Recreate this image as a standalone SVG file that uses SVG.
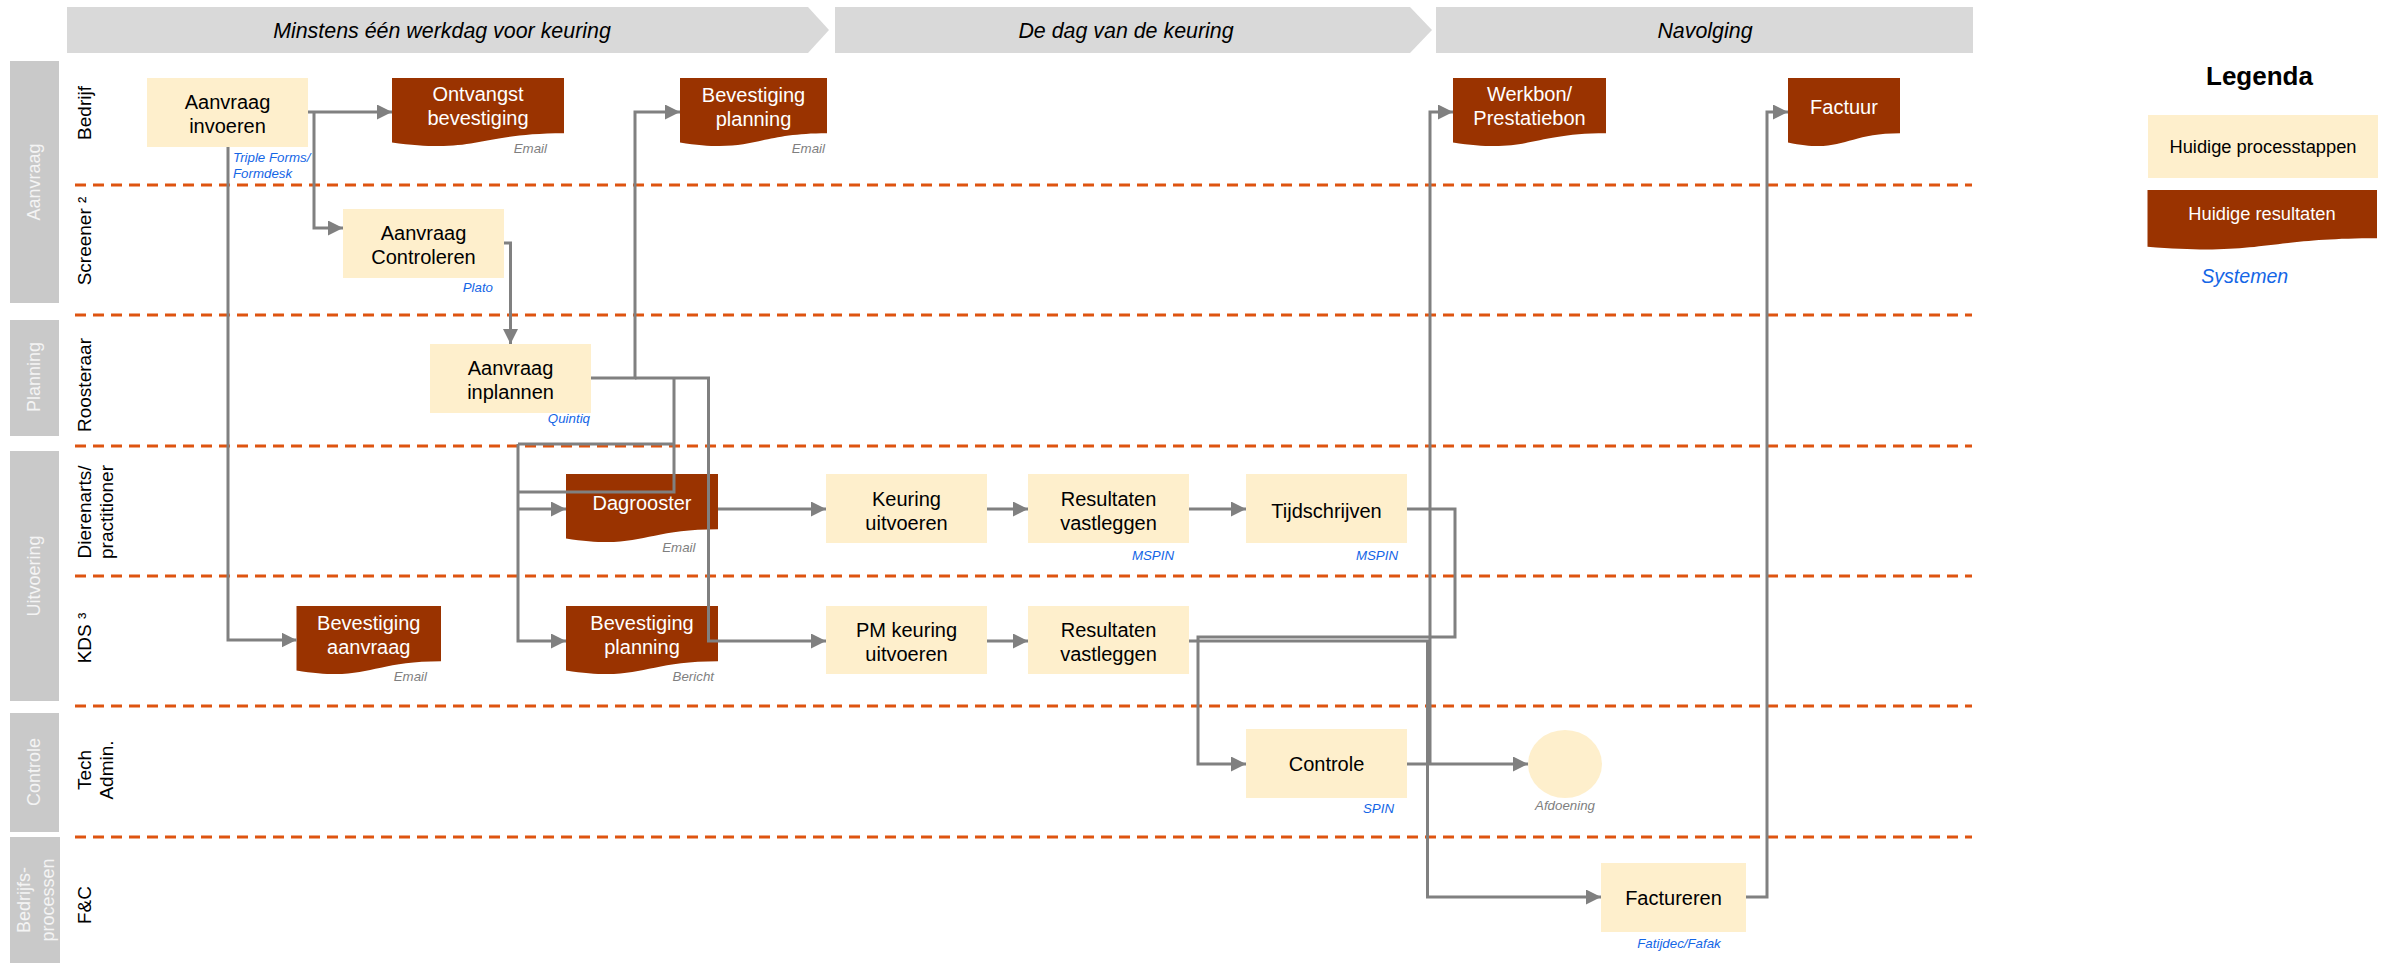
<svg xmlns="http://www.w3.org/2000/svg" width="2392" height="965" viewBox="0 0 2392 965">
<style>
text{font-family:"Liberation Sans",Arial,sans-serif}
.hdr{fill:#D9D9D9}
.htxt{font-size:21.4px;font-style:italic;fill:#000;text-anchor:middle}
.bar{fill:#C9C9C9}
.btxt{font-size:18px;fill:#F4F4F4;text-anchor:middle}
.ltxt{font-size:19px;fill:#000;text-anchor:middle}
.lane{stroke:#DE5410;stroke-width:3;stroke-dasharray:11 7;fill:none}
.proc{fill:#FEEFCC}
.doc{fill:#9A3300}
.ptxt{font-size:20px;fill:#000;text-anchor:middle}
.dtxt{font-size:20px;fill:#fff;text-anchor:middle}
.sys{font-size:13.3px;font-style:italic;fill:#1466E6}
.gry{font-size:13.3px;font-style:italic;fill:#7F7F7F}
.con{stroke:#808080;stroke-width:3;fill:none}
.arr{stroke:#808080;stroke-width:3;fill:none;marker-end:url(#ah)}
</style>
<defs>
<marker id="ah" markerUnits="userSpaceOnUse" markerWidth="16" markerHeight="16" refX="15" refY="7.5" orient="auto"><path d="M0,0 L15,7.5 L0,15 Z" fill="#808080"/></marker>
</defs>
<rect width="2392" height="965" fill="#fff"/>

<g id="headers">
<path class="hdr" d="M67,7 H808 L829,30 L808,53 H67 Z"/>
<text class="htxt" x="442" y="38">Minstens één werkdag voor keuring</text>
<path class="hdr" d="M835,7 H1410 L1432,30 L1410,53 H835 Z"/>
<text class="htxt" x="1126" y="38">De dag van de keuring</text>
<rect class="hdr" x="1436" y="7" width="537" height="46"/>
<text class="htxt" x="1705" y="38">Navolging</text>
</g>

<g id="lanegroups">
<rect class="bar" x="10" y="61" width="49" height="242"/>
<text class="btxt" transform="translate(34,182) rotate(-90)" dy="6">Aanvraag</text>
<rect class="bar" x="10" y="320" width="49" height="116"/>
<text class="btxt" transform="translate(34,377) rotate(-90)" dy="6">Planning</text>
<rect class="bar" x="10" y="451" width="49" height="250"/>
<text class="btxt" transform="translate(34,576) rotate(-90)" dy="6">Uitvoering</text>
<rect class="bar" x="10" y="713" width="49" height="119"/>
<text class="btxt" transform="translate(34,772) rotate(-90)" dy="6">Controle</text>
<rect class="bar" x="10" y="837" width="50" height="126"/>
<text class="btxt" transform="translate(24,900) rotate(-90)" dy="6">Bedrijfs-</text>
<text class="btxt" transform="translate(48,900) rotate(-90)" dy="6">processen</text>
</g>

<g id="lanelabels">
<text class="ltxt" transform="translate(84,113) rotate(-90)" dy="6.5">Bedrijf</text>
<text class="ltxt" transform="translate(84,241) rotate(-90)" dy="6.5">Screener ²</text>
<text class="ltxt" transform="translate(84,385) rotate(-90)" dy="6.5">Roosteraar</text>
<text class="ltxt" transform="translate(84,512) rotate(-90)" dy="6.5">Dierenarts/</text>
<text class="ltxt" transform="translate(106,512) rotate(-90)" dy="6.5">practitioner</text>
<text class="ltxt" transform="translate(84,638) rotate(-90)" dy="6.5">KDS ³</text>
<text class="ltxt" transform="translate(84,770) rotate(-90)" dy="6.5">Tech</text>
<text class="ltxt" transform="translate(106,770) rotate(-90)" dy="6.5">Admin.</text>
<text class="ltxt" transform="translate(84,905) rotate(-90)" dy="6.5">F&amp;C</text>
</g>

<g id="lanelines">
<path class="lane" d="M75,185 H1972 M75,315 H1972 M75,446 H1972 M75,576 H1972 M75,706 H1972 M75,837 H1972"/>
</g>

<g id="n-aanvraag-invoeren">
<rect class="proc" x="147" y="78" width="161" height="69"/>
<text class="ptxt" x="227.5" y="109">Aanvraag</text>
<text class="ptxt" x="227.5" y="133">invoeren</text>
<text class="sys" x="233" y="162">Triple Forms/</text>
<text class="sys" x="233" y="178">Formdesk</text>
</g>
<g id="n-ontvangst">
<path class="doc" d="M392,78 H564 V133.3 C478,133.3 478,154.4 392,142.4 Z"/>
<text class="dtxt" x="478" y="101">Ontvangst</text>
<text class="dtxt" x="478" y="125">bevestiging</text>
<text class="gry" x="547" y="153" text-anchor="end">Email</text>
</g>
<g id="n-bevestiging-planning-top">
<path class="doc" d="M680,78 H827 V133.3 C753.5,133.3 753.5,154.4 680,142.4 Z"/>
<text class="dtxt" x="753.5" y="102">Bevestiging</text>
<text class="dtxt" x="753.5" y="126">planning</text>
<text class="gry" x="825" y="153" text-anchor="end">Email</text>
</g>
<g id="n-aanvraag-controleren">
<rect class="proc" x="343" y="209" width="161" height="69"/>
<text class="ptxt" x="423.5" y="240">Aanvraag</text>
<text class="ptxt" x="423.5" y="264">Controleren</text>
<text class="sys" x="493" y="292" text-anchor="end">Plato</text>
</g>
<g id="n-aanvraag-inplannen">
<rect class="proc" x="430" y="344" width="161" height="69"/>
<text class="ptxt" x="510.5" y="375">Aanvraag</text>
<text class="ptxt" x="510.5" y="399">inplannen</text>
<text class="sys" x="590" y="423" text-anchor="end">Quintiq</text>
</g>
<g id="n-dagrooster">
<path class="doc" d="M566,474 H718 V529.3 C642,529.3 642,550.4 566,538.4 Z"/>
<text class="dtxt" x="642" y="510">Dagrooster</text>
<text class="gry" x="695.5" y="552" text-anchor="end">Email</text>
</g>
<g id="n-bevestiging-aanvraag">
<path class="doc" d="M296.5,606 H441 V661.3 C368.8,661.3 368.8,682.4 296.5,670.4 Z"/>
<text class="dtxt" x="368.8" y="630">Bevestiging</text>
<text class="dtxt" x="368.8" y="654">aanvraag</text>
<text class="gry" x="427" y="681" text-anchor="end">Email</text>
</g>
<g id="n-bevestiging-planning-kds">
<path class="doc" d="M566,606 H718 V661.3 C642,661.3 642,682.4 566,670.4 Z"/>
<text class="dtxt" x="642" y="630">Bevestiging</text>
<text class="dtxt" x="642" y="654">planning</text>
<text class="gry" x="714" y="681" text-anchor="end">Bericht</text>
</g>
<g id="n-keuring-uitvoeren">
<rect class="proc" x="826" y="474" width="161" height="69"/>
<text class="ptxt" x="906.5" y="506">Keuring</text>
<text class="ptxt" x="906.5" y="530">uitvoeren</text>
</g>
<g id="n-resultaten-top">
<rect class="proc" x="1028" y="474" width="161" height="69"/>
<text class="ptxt" x="1108.5" y="506">Resultaten</text>
<text class="ptxt" x="1108.5" y="530">vastleggen</text>
<text class="sys" x="1174" y="560" text-anchor="end">MSPIN</text>
</g>
<g id="n-tijdschrijven">
<rect class="proc" x="1246" y="474" width="161" height="69"/>
<text class="ptxt" x="1326.5" y="518">Tijdschrijven</text>
<text class="sys" x="1398" y="560" text-anchor="end">MSPIN</text>
</g>
<g id="n-pm-keuring">
<rect class="proc" x="826" y="606" width="161" height="68"/>
<text class="ptxt" x="906.5" y="637">PM keuring</text>
<text class="ptxt" x="906.5" y="661">uitvoeren</text>
</g>
<g id="n-resultaten-kds">
<rect class="proc" x="1028" y="606" width="161" height="68"/>
<text class="ptxt" x="1108.5" y="637">Resultaten</text>
<text class="ptxt" x="1108.5" y="661">vastleggen</text>
</g>
<g id="n-controle">
<rect class="proc" x="1246" y="729" width="161" height="69"/>
<text class="ptxt" x="1326.5" y="771">Controle</text>
<text class="sys" x="1394" y="813" text-anchor="end">SPIN</text>
</g>
<g id="n-afdoening">
<ellipse class="proc" cx="1565" cy="764" rx="37" ry="34"/>
<text class="gry" x="1565" y="810" text-anchor="middle">Afdoening</text>
</g>
<g id="n-werkbon">
<path class="doc" d="M1453,78 H1606 V133.3 C1529.5,133.3 1529.5,154.4 1453,142.4 Z"/>
<text class="dtxt" x="1529.5" y="101">Werkbon/</text>
<text class="dtxt" x="1529.5" y="125">Prestatiebon</text>
</g>
<g id="n-factureren">
<rect class="proc" x="1601" y="863" width="145" height="69"/>
<text class="ptxt" x="1673.5" y="905">Factureren</text>
<text class="sys" x="1679" y="948" text-anchor="middle">Fatijdec/Fafak</text>
</g>
<g id="n-factuur">
<path class="doc" d="M1788,78 H1900 V133.3 C1844,133.3 1844,154.4 1788,142.4 Z"/>
<text class="dtxt" x="1844" y="114">Factuur</text>
</g>

<g id="connectors">
<path class="arr" d="M308,112 H392"/>
<path class="arr" d="M314,112 V228 H343"/>
<path class="arr" d="M228,147 V640 H296.5"/>
<path class="arr" d="M504,243 H510.5 V344"/>
<path class="arr" d="M591,378 H635 V112 H680"/>
<path class="arr" d="M635,378 H708.5 V641 H826"/>
<path class="con" d="M674,378 V492 H518 M518,444 H674"/>
<path class="arr" d="M518,444 V641 H566"/>
<path class="arr" d="M518,509 H566"/>
<path class="arr" d="M718,509 H826"/>
<path class="arr" d="M987,509 H1028"/>
<path class="arr" d="M1189,509 H1246"/>
<path class="arr" d="M987,641 H1028"/>
<path class="arr" d="M1407,509 H1455 V637 H1198 V764 H1246"/>
<path class="arr" d="M1189,641 H1427.5 V897 H1601"/>
<path class="arr" d="M1407,764 H1528"/>
<path class="arr" d="M1430,764 V112 H1453"/>
<path class="arr" d="M1746,897 H1767 V112 H1788"/>
</g>

<g id="legend">
<text x="2259.5" y="85" text-anchor="middle" style="font-size:26px;font-weight:bold;fill:#000">Legenda</text>
<rect class="proc" x="2148" y="115" width="230" height="63"/>
<text x="2263" y="153" text-anchor="middle" style="font-size:18.3px;fill:#000">Huidige processtappen</text>
<path class="doc" d="M2147.5,190 H2377 V238.3 C2262,238.3 2262,256 2147.5,246.7 Z"/>
<text x="2262" y="220" text-anchor="middle" style="font-size:18.3px;fill:#fff">Huidige resultaten</text>
<text x="2244.7" y="283.3" text-anchor="middle" style="font-size:19.6px;font-style:italic;fill:#1466E6">Systemen</text>
</g>
</svg>
